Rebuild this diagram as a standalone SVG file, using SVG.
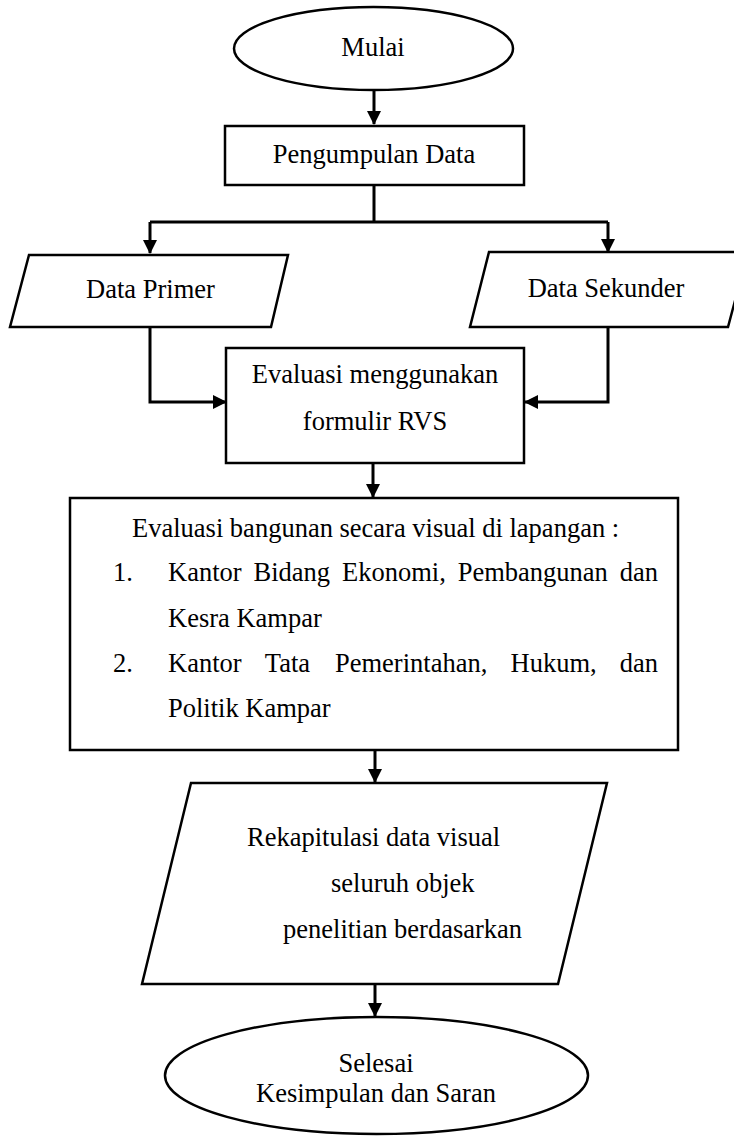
<svg xmlns="http://www.w3.org/2000/svg" width="734" height="1137" viewBox="0 0 734 1137">
<style>
.s{fill:#fff;stroke:#000;stroke-width:2.5}
.t{font-family:"Liberation Serif","Times New Roman",serif;font-size:26.5px;fill:#000}
.m{text-anchor:middle}
.c{fill:none;stroke:#000;stroke-width:3}
</style>
<defs>
<marker id="ah" markerUnits="userSpaceOnUse" markerWidth="14" markerHeight="14" refX="13" refY="7" orient="auto">
<path d="M0,0 L14,7 L0,14 Z" fill="#000"/>
</marker>
</defs>
<rect width="734" height="1137" fill="#fff"/>
<g id="connectors">
<path class="c" d="M374,90 V124" marker-end="url(#ah)"/>
<path class="c" d="M374,185 V222 M150,222 H608"/>
<path class="c" d="M150,222 V253" marker-end="url(#ah)"/>
<path class="c" d="M608,222 V252" marker-end="url(#ah)"/>
<path class="c" d="M150,327 V402 H226" marker-end="url(#ah)"/>
<path class="c" d="M608,327 V402 H525" marker-end="url(#ah)"/>
<path class="c" d="M373,463 V497" marker-end="url(#ah)"/>
<path class="c" d="M375,750 V782" marker-end="url(#ah)"/>
<path class="c" d="M375,984 V1016" marker-end="url(#ah)"/>
</g>
<g id="mulai">
<ellipse class="s" cx="373.5" cy="48.5" rx="139.5" ry="41.5"/>
<text class="t m" x="373" y="56">Mulai</text>
</g>
<g id="pengumpulan">
<rect class="s" x="225" y="126" width="299" height="59"/>
<text class="t m" x="374" y="163">Pengumpulan Data</text>
</g>
<g id="primer">
<polygon class="s" points="29,255 288,255 271,327 10,327"/>
<text class="t m" x="150.5" y="298">Data Primer</text>
</g>
<g id="sekunder">
<polygon class="s" points="489,252 748,252 728,327 470,327"/>
<text class="t m" x="606" y="297">Data Sekunder</text>
</g>
<g id="evaluasi-rvs">
<rect class="s" x="226" y="348" width="298" height="115"/>
<text class="t m" x="375" y="383">Evaluasi menggunakan</text>
<text class="t m" x="375" y="430">formulir RVS</text>
</g>
<g id="evaluasi-visual">
<rect class="s" x="70" y="498" width="608" height="252"/>
<text class="t" x="132" y="537">Evaluasi bangunan secara visual di lapangan :</text>
<text class="t"><tspan x="113" y="581">1.</tspan><tspan x="168" y="581">Kantor</tspan><tspan x="253.5" y="581">Bidang</tspan><tspan x="342" y="581">Ekonomi,</tspan><tspan x="457.7" y="581">Pembangunan</tspan><tspan x="619.7" y="581">dan</tspan></text>
<text class="t" x="168" y="627">Kesra Kampar</text>
<text class="t"><tspan x="113" y="672">2.</tspan><tspan x="168" y="672">Kantor</tspan><tspan x="264.8" y="672">Tata</tspan><tspan x="335" y="672">Pemerintahan,</tspan><tspan x="510.5" y="672">Hukum,</tspan><tspan x="619.7" y="672">dan</tspan></text>
<text class="t" x="168" y="717">Politik Kampar</text>
</g>
<g id="rekapitulasi">
<polygon class="s" points="191,783 607,783 558,984 142,984"/>
<text class="t" x="247" y="846">Rekapitulasi data visual</text>
<text class="t" x="331" y="892">seluruh objek</text>
<text class="t" x="283" y="938">penelitian berdasarkan</text>
</g>
<g id="selesai">
<ellipse class="s" cx="376.5" cy="1075.5" rx="211.5" ry="58.5"/>
<text class="t m" x="376" y="1072">Selesai</text>
<text class="t m" x="376" y="1102">Kesimpulan dan Saran</text>
</g>
</svg>
